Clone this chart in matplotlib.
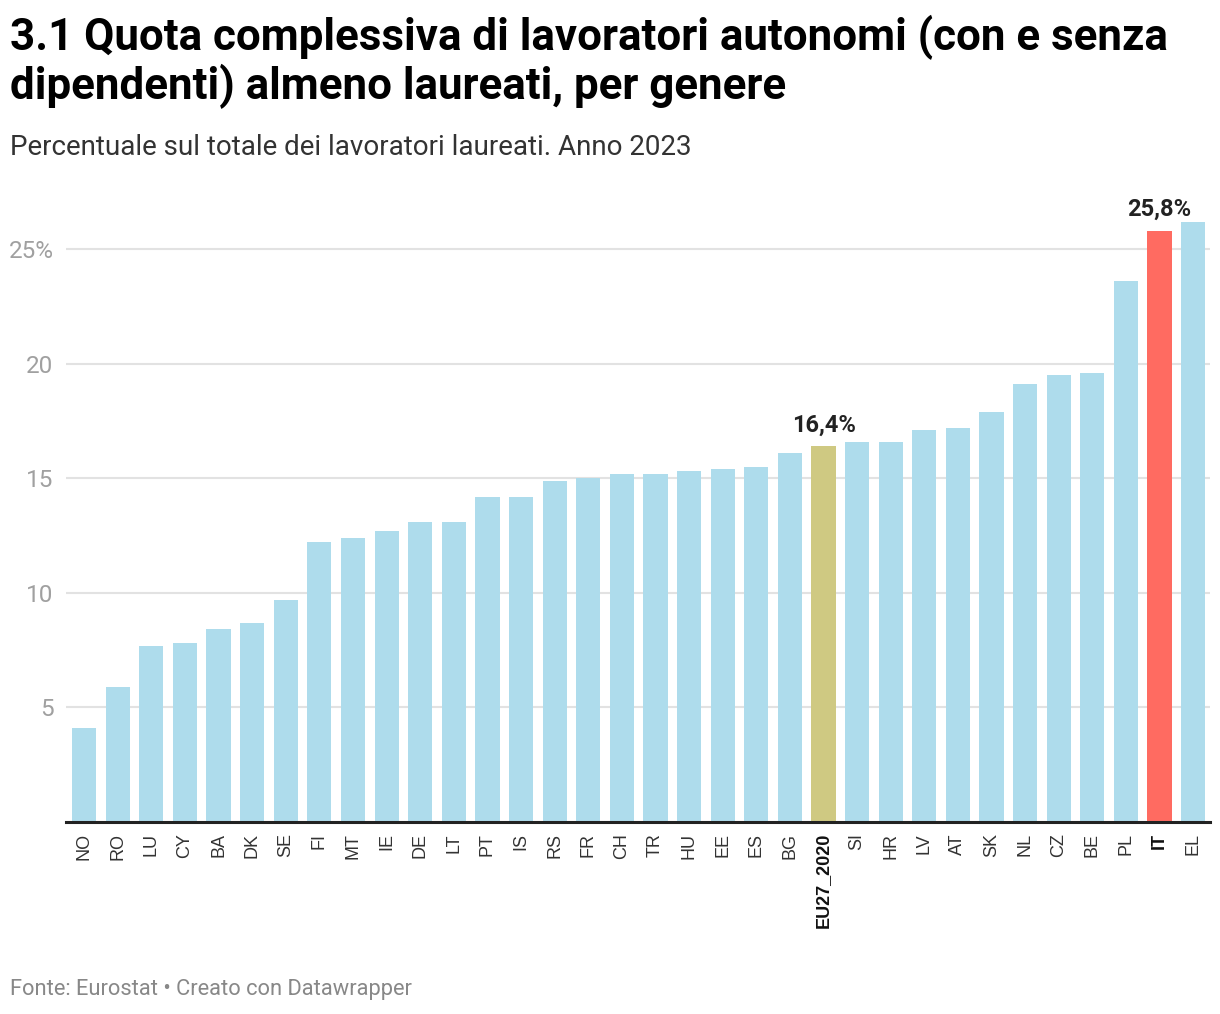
import matplotlib
matplotlib.use("Agg")
import matplotlib.pyplot as plt
import numpy as np

# --------------------------------------------------------------------------------------------------
# Data (percent of graduate workers, 2023)

countries = ['NO', 'RO', 'LU', 'CY', 'BA', 'DK', 'SE', 'FI', 'MT', 'IE', 'DE', 'LT', 'PT', 'IS',
             'RS', 'FR', 'CH', 'TR', 'HU', 'EE', 'ES', 'BG', 'EU27_2020', 'SI', 'HR', 'LV', 'AT',
             'SK', 'NL', 'CZ', 'BE', 'PL', 'IT', 'EL']
values = [4.1, 5.9, 7.7, 7.8, 8.4, 8.7, 9.7, 12.2, 12.4, 12.7, 13.1, 13.1, 14.2, 14.2,
          14.9, 15.0, 15.2, 15.2, 15.3, 15.4, 15.5, 16.1, 16.4, 16.6, 16.6, 17.1, 17.2,
          17.9, 19.1, 19.5, 19.6, 23.6, 25.8, 26.2]
highlight = {'EU27_2020': '#cfc982', 'IT': '#ff6b61'}
yticks = [5, 10, 15, 20, 25]
ytick_labels = ['5', '10', '15', '20', '25%']

W, H = 1220, 1014

def fx(px):
    return px / W

def fy(py):
    return 1 - py / H

fig = plt.figure(figsize=(W / 100, H / 100), dpi=100)
ax = fig.add_axes([fx(66), fy(822), (1210 - 66) / W, (822 - 203.2) / H])

colors = [highlight.get(c, '#aedcec') for c in countries]
x = np.arange(len(countries))
ax.bar(x, values, width=0.72, color=colors, zorder=2)

ax.set_xlim(-0.54, len(countries) - 0.5)
ax.set_ylim(0, 27)

# grid
ax.set_yticks(yticks)
ax.set_yticklabels(ytick_labels, family='Roboto', fontsize=17.5, color='#a0a0a0')
ax.tick_params(axis='y', length=0, pad=9)
ax.grid(axis='y', color='#e2e2e2', linewidth=1.5, zorder=0)
for s in ['top', 'right', 'left']:
    ax.spines[s].set_visible(False)
ax.spines['bottom'].set_color('#222222')
ax.spines['bottom'].set_linewidth(2.2)
ax.spines['bottom'].set_zorder(3)

# x labels
ax.set_xticks(x)
ax.set_xticklabels(countries, rotation=90, va='top', ha='center',
                   family='Liberation Sans', fontsize=13, color='#333333')
for lab in ax.get_xticklabels():
    if lab.get_text() in highlight:
        lab.set_fontweight('bold')
        lab.set_color('#111111')
ax.tick_params(axis='x', length=0, pad=8)

# value labels on highlighted bars
for i, c in enumerate(countries):
    if c in highlight:
        ax.annotate(('%.1f%%' % values[i]).replace('.', ','), (i, values[i]),
                    xytext=(0, 7), textcoords='offset points', ha='center', va='bottom',
                    family='Roboto', fontweight='bold', fontsize=17, color='#222222')

# titles
fig.text(fx(10), fy(50), '3.1 Quota complessiva di lavoratori autonomi (con e senza',
         family='Roboto', fontweight='bold', fontsize=31.6, color='#000000', va='baseline')
fig.text(fx(10), fy(99), 'dipendenti) almeno laureati, per genere',
         family='Roboto', fontweight='bold', fontsize=31.6, color='#000000', va='baseline')
fig.text(fx(10), fy(155), 'Percentuale sul totale dei lavoratori laureati. Anno 2023',
         family='Roboto', fontsize=20, color='#333333', va='baseline')
fig.text(fx(10), fy(995), 'Fonte: Eurostat \u2022 Creato con Datawrapper',
         family='Roboto', fontsize=15.75, color='#888888', va='baseline')

fig.savefig('out.png', dpi=100)
